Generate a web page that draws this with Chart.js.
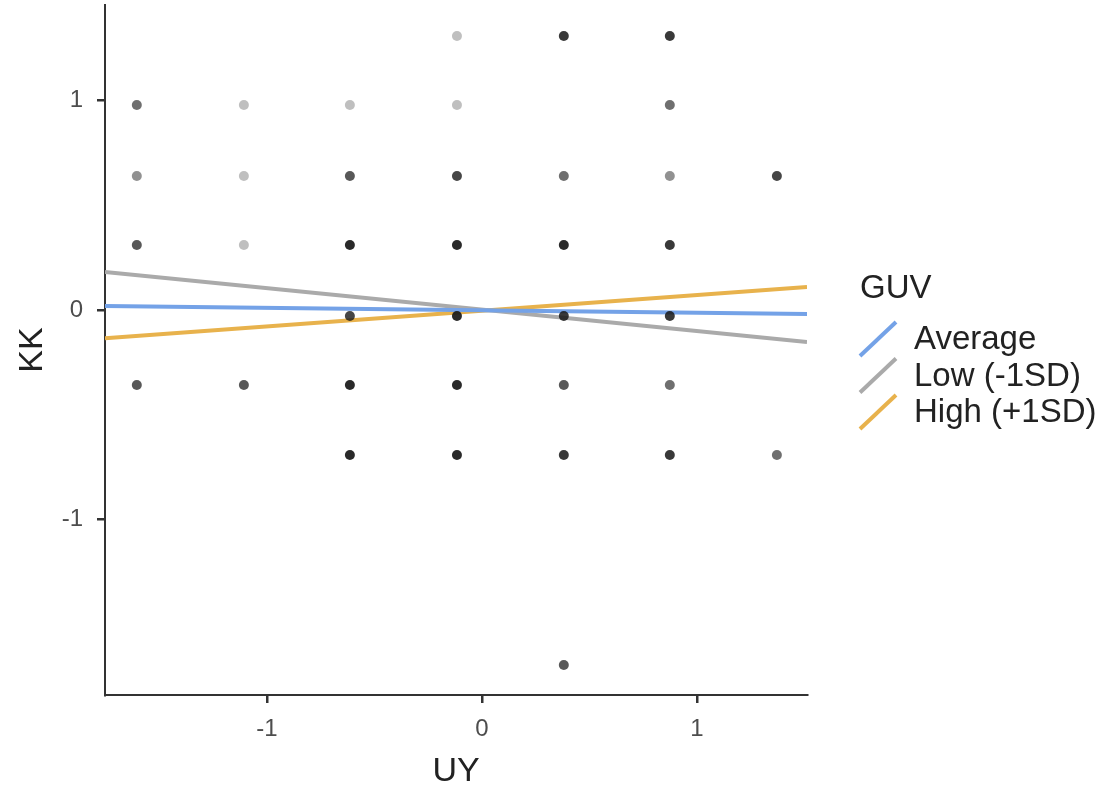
<!DOCTYPE html>
<html>
<head>
<meta charset="utf-8">
<script src="https://cdn.jsdelivr.net/npm/chart.js@4/dist/chart.umd.min.js"></script>
<style>
  body { margin: 0; background: #fff; }
  canvas { display: block; }
</style>
</head>
<body>
<canvas id="chart" width="1107" height="798"></canvas>
<script>
  // scatter points (UY, KK) and how many respondents sit on each spot
  const pointX = [
    -0.116, 0.381, 0.874,
    -1.605, -1.107, -0.614, -0.116, 0.874,
    -1.605, -1.107, -0.614, -0.116, 0.381, 0.874, 1.372,
    -1.605, -1.107, -0.614, -0.116, 0.381, 0.874,
    -0.614, -0.116, 0.381, 0.874,
    -1.605, -1.107, -0.614, -0.116, 0.381, 0.874,
    -0.614, -0.116, 0.381, 0.874, 1.372,
    0.381
  ];
  const pointY = [
    1.308, 1.308, 1.308,
    0.979, 0.979, 0.979, 0.979, 0.979,
    0.640, 0.640, 0.640, 0.640, 0.640, 0.640, 0.640,
    0.310, 0.310, 0.310, 0.310, 0.310, 0.310,
    -0.029, -0.029, -0.029, -0.029,
    -0.358, -0.358, -0.358, -0.358, -0.358, -0.358,
    -0.692, -0.692, -0.692, -0.692, -0.692,
    -1.695
  ];
  const pointCount = [
    1, 6, 6,
    3, 1, 1, 1, 3,
    2, 1, 4, 5, 3, 2, 5,
    4, 1, 8, 8, 8, 6,
    5, 8, 6, 6,
    4, 4, 8, 8, 4, 3,
    8, 8, 6, 6, 3,
    4
  ];

  // simple slopes, GUV groups
  const groups = ['Average', 'Low (-1SD)', 'High (+1SD)'];
  const groupColors = ['#74a2e7', '#aaaaaa', '#e8b24c'];
  const lineX = [-1.753, 1.512];
  const avgLine = [0.019, -0.019];
  const lowLine = [0.181, -0.153];
  const highLine = [-0.135, 0.110];

  const xTicks = [-1, 0, 1];
  const yTicks = [-1, 0, 1];
  const xRange = [-1.753, 1.512];
  const yRange = [-1.838, 1.456];

  const pointAlpha = 0.28;
  const scatterData = pointX.map((x, i) => ({ x: x, y: pointY[i] }));
  const scatterColors = pointCount.map(n => 'rgba(26,26,26,' + (1 - Math.pow(1 - pointAlpha, n)).toFixed(3) + ')');

  const lineSets = [avgLine, lowLine, highLine].map((vals, i) => ({
    type: 'line',
    label: groups[i],
    data: lineX.map((x, j) => ({ x: x, y: vals[j] })),
    borderColor: groupColors[i],
    borderWidth: 4,
    pointRadius: 0,
    fill: false,
    tension: 0
  }));

  const legendPlugin = {
    id: 'guvLegend',
    afterDraw(chart) {
      const ctx = chart.ctx;
      ctx.save();
      ctx.fillStyle = '#222';
      ctx.textBaseline = 'middle';
      ctx.textAlign = 'left';
      ctx.font = '33px "Liberation Sans", Arial, sans-serif';
      ctx.fillText('GUV', 860, 289);
      groups.forEach((g, i) => {
        const cy = 339 + i * 36.5;
        ctx.strokeStyle = groupColors[i];
        ctx.lineWidth = 4;
        ctx.beginPath();
        ctx.moveTo(860, cy + 17);
        ctx.lineTo(896, cy - 17);
        ctx.stroke();
        ctx.fillStyle = '#222';
        ctx.fillText(g, 914, cy + 1);
      });
      ctx.restore();
    }
  };

  const ctx = document.getElementById('chart').getContext('2d');
  const chart = new Chart(ctx, {
    type: 'scatter',
    data: {
      datasets: [{
        label: 'points',
        data: scatterData,
        backgroundColor: scatterColors,
        borderWidth: 0,
        pointRadius: 5,
        pointHoverRadius: 5
      }].concat(lineSets)
    },
    options: {
      responsive: false,
      animation: false,
      devicePixelRatio: 1,
      layout: { padding: { top: 5, right: 300, left: 0, bottom: 0 } },
      plugins: {
        legend: { display: false },
        tooltip: { enabled: false }
      },
      scales: {
        x: {
          type: 'linear',
          min: xRange[0],
          max: xRange[1],
          afterBuildTicks: s => { s.ticks = xTicks.map(v => ({ value: v })); },
          afterFit: s => { s.height = 103; s.paddingLeft = 0; s.paddingRight = 0; },
          grid: { drawOnChartArea: false, drawTicks: true, tickLength: 8, color: '#333', lineWidth: 2.5 },
          border: { color: '#333', width: 2 },
          ticks: {
            color: '#4d4d4d',
            padding: 12,
            maxRotation: 0,
            font: { family: '"Liberation Sans", Arial, sans-serif', size: 24 },
            callback: v => String(v)
          },
          title: {
            display: true,
            text: 'UY',
            color: '#222',
            padding: { top: 0, bottom: 6 },
            font: { family: '"Liberation Sans", Arial, sans-serif', size: 34 }
          }
        },
        y: {
          type: 'linear',
          min: yRange[0],
          max: yRange[1],
          afterBuildTicks: s => { s.ticks = yTicks.map(v => ({ value: v })); },
          afterFit: s => { s.width = 105; s.paddingTop = 0; s.paddingBottom = 0; },
          grid: { drawOnChartArea: false, drawTicks: true, tickLength: 8, color: '#333', lineWidth: 2.5 },
          border: { color: '#333', width: 2 },
          ticks: {
            color: '#4d4d4d',
            padding: 14,
            font: { family: '"Liberation Sans", Arial, sans-serif', size: 24 },
            callback: v => String(v)
          },
          title: {
            display: true,
            text: 'KK',
            color: '#222',
            padding: { top: 12, bottom: 0 },
            font: { family: '"Liberation Sans", Arial, sans-serif', size: 34 }
          }
        }
      }
    },
    plugins: [legendPlugin]
  });
</script>
</body>
</html>
